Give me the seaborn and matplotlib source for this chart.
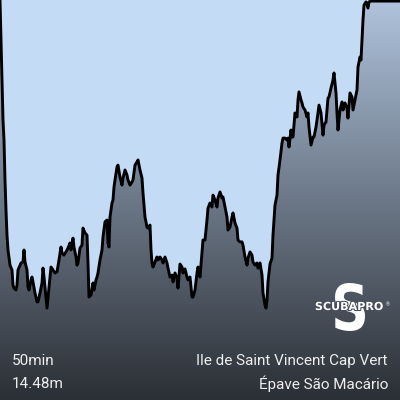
import numpy as np
import pandas as pd
import matplotlib
matplotlib.use("Agg")
import matplotlib.pyplot as plt
import matplotlib.patheffects as pe
from matplotlib.colors import LinearSegmentedColormap
from matplotlib.textpath import TextPath
from matplotlib.patches import PathPatch
from matplotlib.font_manager import FontProperties
from matplotlib.transforms import Affine2D, IdentityTransform
import seaborn as sns

# Dive profile: time (minutes) and depth (metres)
time_min = [
    0, 0.125, 0.25, 0.375, 0.5, 0.625, 0.75, 0.875, 1.0, 1.25,
    1.5, 1.625, 1.75, 2.0, 2.125, 2.25, 2.625, 2.875, 3.0, 3.125,
    3.375, 3.5, 3.625, 3.875, 4.0, 4.125, 4.375, 4.625, 4.75, 5.0,
    5.25, 5.375, 5.5, 5.75, 5.875, 6.125, 6.375, 6.625, 6.875, 7.125,
    7.375, 7.625, 7.75, 8.0, 8.25, 8.5, 8.75, 8.875, 9.125, 9.25,
    9.5, 9.625, 9.75, 10.0, 10.25, 10.375, 10.625, 10.875, 11.0, 11.125,
    11.375, 11.625, 11.75, 12.0, 12.125, 12.25, 12.5, 12.75, 12.875, 13.125,
    13.375, 13.5, 13.625, 13.75, 14.0, 14.125, 14.25, 14.375, 14.625, 14.75,
    15.0, 15.25, 15.375, 15.625, 15.875, 16.0, 16.25, 16.5, 16.625, 16.875,
    17.125, 17.25, 17.5, 17.75, 17.875, 18.125, 18.375, 18.5, 18.75, 18.875,
    19.0, 19.125, 19.375, 19.625, 19.75, 20.0, 20.25, 20.375, 20.625, 20.875,
    21.0, 21.25, 21.5, 21.625, 21.875, 22.125, 22.25, 22.5, 22.75, 22.875,
    23.125, 23.375, 23.5, 23.75, 24.0, 24.125, 24.375, 24.625, 24.75, 25.0,
    25.25, 25.375, 25.625, 25.875, 26.0, 26.25, 26.5, 26.625, 26.875, 27.125,
    27.25, 27.5, 27.75, 27.875, 28.125, 28.375, 28.5, 28.75, 29.0, 29.125,
    29.375, 29.625, 29.75, 30.0, 30.25, 30.375, 30.625, 30.875, 31.0, 31.25,
    31.5, 31.625, 31.875, 32.125, 32.25, 32.5, 32.75, 32.875, 33.125, 33.25,
    33.375, 33.5, 33.75, 34.0, 34.125, 34.375, 34.625, 34.75, 35.0, 35.25,
    35.375, 35.625, 35.875, 36.0, 36.125, 36.375, 36.5, 36.625, 36.875, 37.125,
    37.25, 37.375, 37.625, 37.75, 37.875, 38.125, 38.375, 38.5, 38.625, 38.875,
    39.125, 39.25, 39.5, 39.75, 39.875, 40.125, 40.375, 40.5, 40.75, 41.0,
    41.125, 41.375, 41.625, 41.75, 42.0, 42.125, 42.25, 42.5, 42.75, 42.875,
    43.125, 43.375, 43.5, 43.75, 44.0, 44.125, 44.375, 44.625, 44.75, 45.0,
    45.125, 45.25, 45.375, 45.5, 45.75, 45.875, 46.0, 46.125, 46.375, 50.0,
]
depth_m = [
    0.00, 1.88, 3.76, 5.64, 6.58, 8.46, 9.87, 11.05, 11.75, 12.46,
    12.69, 13.40, 13.54, 13.63, 13.40, 12.69, 12.36, 12.31, 11.75, 12.31,
    12.69, 13.49, 13.63, 13.16, 13.02, 13.25, 13.77, 14.19, 14.19, 13.77,
    13.30, 12.60, 13.02, 13.96, 14.48, 13.49, 12.55, 12.69, 12.83, 12.78,
    12.22, 11.61, 11.89, 11.99, 11.84, 11.66, 11.42, 11.75, 11.19, 11.61,
    12.08, 12.46, 12.36, 11.66, 11.52, 10.72, 10.95, 11.05, 12.36, 13.96,
    13.87, 13.30, 13.63, 13.16, 13.02, 12.83, 12.22, 11.75, 11.14, 10.43,
    10.34, 11.42, 11.61, 10.20, 9.54, 9.40, 8.79, 8.46, 7.85, 7.76,
    8.32, 8.70, 8.37, 7.99, 8.23, 8.46, 8.70, 8.55, 8.46, 7.76,
    7.61, 7.52, 7.99, 8.37, 9.07, 10.20, 10.67, 10.72, 10.58, 11.75,
    12.36, 12.55, 12.31, 12.08, 12.22, 12.08, 12.22, 12.36, 12.08, 12.36,
    12.60, 13.02, 12.93, 13.25, 12.83, 13.07, 13.54, 12.41, 12.55, 12.83,
    12.64, 13.02, 13.16, 13.02, 13.96, 13.96, 13.63, 12.83, 12.55, 13.02,
    11.89, 11.28, 11.28, 10.34, 9.78, 9.54, 9.73, 9.17, 9.40, 9.73,
    9.31, 9.02, 9.31, 9.26, 9.73, 10.20, 10.81, 10.67, 10.20, 10.01,
    10.48, 10.72, 11.28, 11.37, 11.37, 11.52, 12.08, 12.46, 12.13, 11.84,
    11.99, 12.31, 12.46, 12.36, 12.60, 12.36, 12.93, 13.77, 14.34, 14.48,
    14.10, 13.25, 12.41, 12.13, 11.05, 9.64, 9.17, 8.23, 7.52, 6.72,
    6.49, 6.49, 6.58, 6.49, 6.91, 6.11, 6.44, 6.44, 5.31, 5.50,
    4.70, 4.32, 4.70, 4.84, 5.03, 5.17, 5.50, 5.31, 5.97, 6.82,
    6.44, 6.44, 5.97, 5.31, 4.94, 5.31, 6.35, 5.88, 5.73, 4.61,
    4.56, 4.14, 3.76, 3.43, 4.37, 5.31, 6.11, 5.17, 4.79, 5.17,
    4.84, 5.08, 5.55, 4.37, 4.56, 5.17, 4.70, 4.23, 3.15, 2.68,
    2.82, 1.88, 0.94, 0.24, 0.09, 0.24, 0.38, 0.09, 0.05, 0.05,
]
assert len(time_min) == len(depth_m)

duration_label = "50min"
max_depth_label = "14.48m"
site_label = "Ile de Saint Vincent Cap Vert"
spot_label = "Épave São Macário"
brand_label = "SCUBAPRO"

df = pd.DataFrame({"time": time_min, "depth": depth_m})

sns.set_theme(style="white")
plt.rcParams["font.family"] = ["Roboto", "DejaVu Sans"]

sky = "#c4dbf5"
fig = plt.figure(figsize=(4, 4), dpi=100, facecolor=sky)
ax = fig.add_axes([0, 0, 1, 1])
ax.set_facecolor(sky)

x_max = 50.0
y_bottom = 18.8

# gradient fill below the profile
cmap = LinearSegmentedColormap.from_list(
    "sea", ["#afc3dc", "#6c7888", "#2b2f35"])
grad = np.linspace(0, 1, 256).reshape(-1, 1)
im = ax.imshow(grad, cmap=cmap, aspect="auto",
               extent=[0, x_max, y_bottom, 0], zorder=1)
poly = ax.fill_between(df["time"], df["depth"], y_bottom,
                       color="none", linewidth=0, zorder=1)
im.set_clip_path(poly.get_paths()[0], transform=ax.transData)

sns.lineplot(data=df, x="time", y="depth", ax=ax, color="black",
             linewidth=2.1, estimator=None, sort=False, zorder=3)
ax.set_xlim(0, x_max)
ax.set_ylim(y_bottom, 0)
ax.set_axis_off()

txt_color = "#eeeeee"
fig.text(12 / 400, 1 - 361 / 400, duration_label, color=txt_color,
         fontsize=11, ha="left", va="center")
fig.text(12 / 400, 1 - 384 / 400, max_depth_label, color=txt_color,
         fontsize=11, ha="left", va="center")
fig.text(388 / 400, 1 - 361 / 400, site_label, color=txt_color,
         fontsize=11, ha="right", va="center")
fig.text(388 / 400, 1 - 384 / 400, spot_label, color=txt_color,
         fontsize=11, ha="right", va="center")

# logo approximation: big "S" glyph drawn as a shape, brand name on top
sp = TextPath((0, 0), "S", size=10,
              prop=FontProperties(family="DejaVu Sans", weight="bold"))
ext = sp.get_extents()
box_w, box_h = 30.0, 48.0       # target size in pixels
cx, cy = 350.0, 400 - 307.0     # target centre (pixels, origin bottom-left)
tr = (Affine2D()
      .translate(-(ext.x0 + ext.width / 2), -(ext.y0 + ext.height / 2))
      .scale(box_w / ext.width, box_h / ext.height)
      .translate(cx, cy))
fig.patches.append(PathPatch(tr.transform_path(sp), facecolor="white",
                             edgecolor="none", transform=IdentityTransform(),
                             figure=fig, zorder=5))
fig.text(349 / 400, 1 - 307 / 400, brand_label, color="white", fontsize=8,
         fontweight="bold", ha="center", va="center",
         family=["DejaVu Sans"], zorder=6,
         path_effects=[pe.withStroke(linewidth=1.5, foreground="#474e58")])
fig.text(388 / 400, 1 - 305 / 400, "®", color="white", fontsize=3.5,
         ha="center", va="center", zorder=6)

fig.savefig("out.png", dpi=100, facecolor=sky)
